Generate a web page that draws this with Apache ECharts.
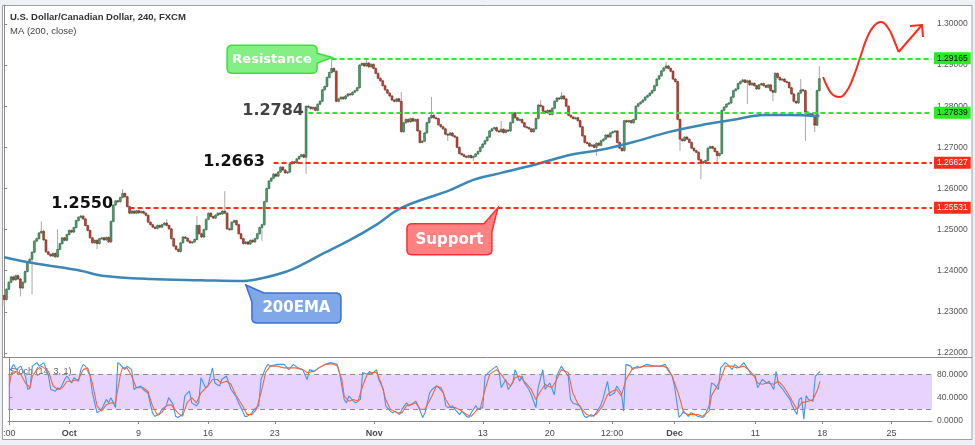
<!DOCTYPE html>
<html><head><meta charset="utf-8">
<script src="https://cdn.jsdelivr.net/npm/echarts@6/dist/echarts.min.js"></script>
<style>html,body{margin:0;padding:0;background:#eef1f5;}#c{width:975px;height:445px;}</style>
</head><body><div id="c"></div>
<script>
// ---------- DATA ----------
const firstOpen = 1.2340;
const closes = [
1.2330,1.2355,1.2372,1.2385,1.2378,1.2388,1.2380,1.2358,1.2372,1.2398,
1.2420,1.2428,1.2445,1.2472,1.2478,1.2492,1.2496,1.2475,1.2446,1.2440,
1.2436,1.2442,1.2434,1.2452,1.2466,1.2480,1.2474,1.2488,1.2498,1.2494,
1.2505,1.2522,1.2530,1.2533,1.2526,1.2510,1.2498,1.2480,1.2468,1.2474,
1.2466,1.2478,1.2480,1.2475,1.2481,1.2470,1.2520,1.2560,1.2570,1.2568,
1.2578,1.2588,1.2580,1.2556,1.2540,1.2545,1.2540,1.2546,1.2541,1.2544,
1.2540,1.2535,1.2518,1.2512,1.2506,1.2503,1.2510,1.2506,1.2512,1.2516,
1.2510,1.2502,1.2478,1.2460,1.2452,1.2447,1.2468,1.2482,1.2479,1.2472,
1.2468,1.2470,1.2476,1.2510,1.2490,1.2482,1.2500,1.2525,1.2540,1.2532,
1.2528,1.2535,1.2540,1.2538,1.2545,1.2540,1.2502,1.2500,1.2518,1.2522,
1.2512,1.2490,1.2478,1.2466,1.2470,1.2465,1.2474,1.2470,1.2478,1.2490,
1.2505,1.2512,1.2568,1.2600,1.2618,1.2625,1.2635,1.2630,1.2640,1.2652,
1.2645,1.2638,1.2640,1.2660,1.2665,1.2662,1.2672,1.2678,1.2682,1.2676,
1.2800,1.2798,1.2794,1.2797,1.2790,1.2805,1.2812,1.2840,1.2848,1.2870,
1.2882,1.2892,1.2885,1.2812,1.2818,1.2822,1.2818,1.2825,1.2830,1.2828,
1.2834,1.2838,1.2845,1.2900,1.2904,1.2898,1.2905,1.2896,1.2902,1.2892,
1.2880,1.2868,1.2862,1.2850,1.2840,1.2832,1.2825,1.2815,1.2812,1.2818,
1.2812,1.2738,1.2760,1.2768,1.2762,1.2770,1.2764,1.2768,1.2740,1.2712,
1.2715,1.2735,1.2760,1.2772,1.2778,1.2772,1.2770,1.2755,1.2750,1.2745,
1.2732,1.2730,1.2735,1.2728,1.2725,1.2700,1.2685,1.2682,1.2678,1.2676,
1.2680,1.2675,1.2678,1.2684,1.2690,1.2700,1.2708,1.2716,1.2725,1.2740,
1.2745,1.2748,1.2740,1.2738,1.2744,1.2736,1.2742,1.2740,1.2760,1.2784,
1.2772,1.2766,1.2768,1.2760,1.2750,1.2748,1.2745,1.2738,1.2745,1.2770,
1.2803,1.2800,1.2788,1.2784,1.2790,1.2780,1.2795,1.2812,1.2820,1.2818,
1.2825,1.2818,1.2800,1.2778,1.2774,1.2770,1.2772,1.2765,1.2750,1.2728,
1.2712,1.2710,1.2703,1.2706,1.2700,1.2710,1.2705,1.2716,1.2720,1.2730,
1.2725,1.2735,1.2738,1.2740,1.2712,1.2698,1.2692,1.2765,1.2762,1.2765,
1.2760,1.2768,1.2800,1.2806,1.2810,1.2815,1.2822,1.2826,1.2832,1.2838,
1.2850,1.2866,1.2874,1.2886,1.2893,1.2898,1.2892,1.2885,1.2866,1.2860,
1.2768,1.2720,1.2716,1.2725,1.2720,1.2712,1.2698,1.2692,1.2688,1.2670,
1.2665,1.2662,1.2668,1.2698,1.2702,1.2698,1.2690,1.2680,1.2685,1.2790,
1.2798,1.2805,1.2808,1.2822,1.2838,1.2842,1.2855,1.2860,1.2864,1.2858,
1.2862,1.2852,1.2856,1.2850,1.2842,1.2852,1.2855,1.2850,1.2846,1.2852,
1.2838,1.2834,1.2880,1.2870,1.2864,1.2866,1.2860,1.2858,1.2845,1.2830,
1.2812,1.2808,1.2832,1.2840,1.2838,1.2786,1.2780,1.2782,1.2776,1.2754,1.2838,1.2867
];
// notable wicks (bar index, high, low)
const wickIdx  = [0,7,12,16,23,40,51,70,83,95,111,130,141,156,171,184,191,202,214,231,240,255,285,291,300,307,320,331,343,345,349,351];
const wickHigh = [null,null,null,1.2518,1.2499,null,1.2596,1.2523,1.2531,1.2591,null,null,1.2917,1.2912,1.2832,1.2820,null,null,1.2762,1.2812,1.2832,null,1.2905,null,null,null,null,null,1.2864,null,null,1.2895];
const wickLow  = [1.2318,1.2340,1.2345,null,null,1.2455,null,null,null,null,1.2475,1.2638,null,null,null,null,1.2718,1.2669,null,null,null,1.2681,null,1.2694,1.2625,1.2662,1.2808,1.2815,null,1.2718,1.2740,null];

// MA(200) read points
const maIdx = [0,13,33,42,63,85,102,111,121,128,136,149,160,171,192,202,214,228,243,257,271,286,300,314,327,338,351];
const maVal = [1.2433,1.2418,1.2400,1.2388,1.2380,1.2377,1.2375,1.2382,1.2397,1.2414,1.2438,1.2475,1.2511,1.2553,1.2596,1.2621,1.2638,1.2657,1.2681,1.2694,1.2713,1.2737,1.2754,1.2767,1.2779,1.2779,1.2776];

// Stoch %K (blue) read points
const kIdx = [0,2,3,5,7,8,9,10,12,13,15,17,18,20,21,22,24,25,27,28,30,31,32,33,35,36,38,40,42,43,44,46,47,48,50,51,53,54,55,57,58,60,62,63,65,66,68,69,71,72,73,75,76,78,79,81,82,83,85,86,88,89,91,92,94,96,98,99,101,102,103,105,106,108,109,111,112,113,116,
119,121,123,125,127,129,130,132,134,137,139,142,143,145,146,147,149,150,152,153,155,156,157,159,160,162,163,165,166,167,169,170,172,173,175,176,177,179,180,182,183,185,186,188,189,190,192,193,195,196,198,199,200,202,203,205,206,208,209,211,212,213,215,216,218,219,221,222,223,225,226,228,229,231,232,
233,234,236,237,239,240,242,243,244,246,247,249,250,252,253,254,256,257,259,260,262,263,265,266,267,269,270,272,273,276,279,282,284,285,287,288,290,291,292,294,295,297,298,300,301,303,304,305,307,308,310,311,313,314,316,318,320,321,323,324,326,328,329,331,332,333,335,336,338,339,341,342,343,344,345,346,348,349,351];
const kVal = [85,97,88,94,77,54,57,94,100,94,100,77,54,51,57,54,71,77,65,74,68,88,97,94,77,48,14,20,37,31,40,23,100,97,88,94,88,54,57,60,54,48,14,8,11,20,26,40,28,8,6,11,43,51,31,26,31,74,57,60,91,65,60,71,77,54,43,34,17,8,8,14,20,26,71,91,97,94,97,
97,88,97,91,88,71,88,85,91,97,100,97,83,37,31,43,34,31,37,83,80,85,80,88,71,54,26,17,14,17,11,20,31,26,31,34,26,6,14,48,54,60,57,48,26,23,26,20,11,17,8,6,14,26,20,23,77,85,88,94,85,57,71,54,65,88,68,77,65,54,45,23,57,88,54,
60,65,45,77,94,88,77,37,31,28,26,8,6,11,8,14,26,37,68,43,48,60,48,17,97,94,88,94,91,97,94,94,97,88,77,60,6,11,17,8,14,11,8,6,8,26,65,63,54,91,100,97,88,97,91,100,88,80,77,57,71,65,68,54,85,63,54,48,37,26,11,37,40,3,43,37,34,77,85];

// Stoch %D (orange) read points
const dIdx = [0,1,3,5,7,9,10,12,14,17,19,21,23,25,27,30,32,34,36,38,40,42,44,46,48,49,51,53,55,58,60,62,64,66,68,70,73,75,77,79,81,83,86,88,90,92,94,96,98,101,103,105,107,109,111,113,116,
119,122,124,127,129,132,134,137,140,142,144,145,147,149,151,153,155,157,159,161,163,165,168,170,172,174,176,178,180,183,185,187,189,191,193,196,198,200,202,204,206,208,211,213,215,217,219,221,223,226,228,230,232,
233,235,237,239,242,244,246,248,250,252,254,257,259,261,263,265,267,270,272,275,277,280,283,285,287,290,292,294,296,298,300,303,304,306,308,310,313,315,318,320,322,324,326,328,331,333,335,337,339,341,343,346,348,350,351];
const dVal = [60,83,85,80,65,57,77,88,94,85,60,54,57,68,68,71,88,91,65,26,17,28,31,31,77,91,91,77,57,57,51,26,11,14,26,28,14,8,31,40,31,48,60,71,71,65,68,63,45,26,11,11,20,48,83,94,94,
91,91,91,88,83,85,91,97,98,94,71,43,34,37,34,60,80,83,83,65,37,20,14,14,26,28,31,20,20,43,60,57,37,23,23,17,11,8,17,23,54,80,88,80,68,60,74,77,68,54,37,51,63,
60,57,71,88,83,48,31,20,11,8,11,26,45,51,54,43,71,91,91,94,94,94,94,91,77,43,14,11,11,11,8,17,43,57,71,94,94,91,94,88,80,65,63,65,63,68,60,48,34,20,31,34,37,54,68];

// horizontal levels
const levelVals  = [1.29165, 1.27839, 1.26627, 1.25531];
const levelStart = [141, 131, 116, 54];
const lastPrice = 1.28669;

// axis ticks
const priceTicks = [1.22,1.23,1.24,1.25,1.26,1.27,1.28,1.29,1.30];
const stochTicks = [0,40,80];
const dateIdx  = [0,26,56,86,115,158,205,234,261,288,323,352,382];
const dateText = [':00','Oct','9','16','23','Nov','13','20','12:00','Dec','11','18','25'];

// hand-drawn forecast arrow (bar index, price)
const arrowIdx = [352.6,354.7,356.9,359.5,362.5,365.5,368.5,371.5,374.5,377.5,380.6,383.1,385.1];
const arrowVal = [1.28711,1.28444,1.28274,1.28225,1.28347,1.28687,1.29173,1.29660,1.29951,1.30049,1.29903,1.29611,1.29319];
const shaftIdx = [385.1,395.2];
const shaftVal = [1.29319,1.29976];

// ---------- CHART ----------
const SLOTS = 400;
const Y_MIN = 1.219027, Y_MAX = 1.304620;
const S_MIN = -6.85, S_MAX = 107.9;
const FONT = 'Liberation Sans';

const cats = Array.from({length:SLOTS}, (_, i) => String(i));
const candleData = closes.map((c, i) => {
  const o = i === 0 ? firstOpen : closes[i-1];
  let h = Math.max(o, c), l = Math.min(o, c);
  const w = wickIdx.indexOf(i);
  if (w >= 0) {
    if (wickHigh[w] != null) h = Math.max(h, wickHigh[w]);
    if (wickLow[w] != null) l = Math.min(l, wickLow[w]);
  }
  return [i, o, c, l, h];
});

function renderCandle(params, api) {
  const i = api.value(0), o = api.value(1), c = api.value(2), l = api.value(3), h = api.value(4);
  const po = api.coord([i, o]), pc = api.coord([i, c]), pl = api.coord([i, l]), ph = api.coord([i, h]);
  const bw = api.size([1, 0])[0] * 0.8;
  const x = po[0];
  const up = c >= o;
  const top = Math.min(po[1], pc[1]);
  const hgt = Math.max(Math.abs(po[1] - pc[1]), 1);
  return {type:'group', children:[
    {type:'line', shape:{x1:x, y1:ph[1]-1, x2:x, y2:pl[1]+1}, style:{stroke:'#a8a8a8', lineWidth:1}},
    {type:'rect', shape:{x:x-bw/2, y:top, width:bw, height:hgt},
     style:{fill: up ? '#53a06c' : '#c84634', stroke: up ? '#24603a' : '#6e2016', lineWidth:0.6}}
  ]};
}

const levelColors = ['#33e533','#33e533','#ff2a1a','#ff2a1a'];
const levelLabelBg = ['#22ee22','#22ee22','#ff2a1a','#ff2a1a'];
const levelLabelFg = ['#000','#000','#fff','#fff'];
const lvlLines = levelVals.map((v, k) => [
  {coord:[levelStart[k], v],
   lineStyle:{color:levelColors[k], type:[5,3], width:2},
   label:{show:true, position:'end', distance:2, formatter:() => v.toFixed(5),
          color:levelLabelFg[k], backgroundColor:levelLabelBg[k], padding:[2,3,1,3],
          fontSize:8.5, fontFamily:FONT}},
  {coord:[SLOTS-0.5, v]}
]);
lvlLines.push([
  {coord:[351, lastPrice], lineStyle:{opacity:0, width:0},
   label:{show:true, position:'end', distance:2, formatter:() => lastPrice.toFixed(5),
          color:'#fff', backgroundColor:'#6c9f84', padding:[2,3,1,3], fontSize:8.5, fontFamily:FONT}},
  {coord:[SLOTS-0.5, lastPrice]}
]);

const chart = echarts.init(document.getElementById('c'), null, {renderer:'canvas'});
const option = {
  animation:false,
  backgroundColor:'#eef1f5',
  textStyle:{fontFamily:FONT},
  grid:[
    {left:3, top:5, width:929, height:352},
    {left:3, top:358, width:929, height:67}
  ],
  xAxis:[
    {type:'value', gridIndex:0, min:-0.5, max:SLOTS-0.5, show:false},
    {type:'category', gridIndex:1, data:cats, boundaryGap:true,
     axisLine:{show:true, lineStyle:{color:'#8a8a8a'}},
     axisTick:{show:true, alignWithLabel:true, length:3, interval:(idx) => dateIdx.includes(idx), lineStyle:{color:'#8a8a8a'}},
     axisLabel:{interval:(idx) => dateIdx.includes(idx), margin:4, fontSize:9, color:'#4a4a4a', fontFamily:FONT,
       formatter:(val) => { const t = dateText[dateIdx.indexOf(Number(val))] || '';
         return ['Oct','Nov','Dec'].includes(t) ? '{b|' + t + '}' : t; },
       rich:{b:{fontWeight:'bold', fontSize:9, color:'#4a4a4a', fontFamily:FONT}}},
     splitLine:{show:false}},
    {type:'value', gridIndex:1, min:-0.5, max:SLOTS-0.5, show:false}
  ],
  yAxis:[
    {type:'value', gridIndex:0, position:'right', min:Y_MIN, max:Y_MAX, splitLine:{show:false},
     axisLine:{show:true, lineStyle:{color:'#8a8a8a'}},
     axisTick:{show:true, length:3, customValues:priceTicks, lineStyle:{color:'#8a8a8a'}},
     axisLabel:{customValues:priceTicks, formatter:(v) => v.toFixed(5), color:'#555', fontSize:8.5, margin:5, fontFamily:FONT}},
    {type:'value', gridIndex:1, position:'right', min:S_MIN, max:S_MAX, splitLine:{show:false},
     axisLine:{show:true, lineStyle:{color:'#8a8a8a'}},
     axisTick:{show:true, length:3, customValues:stochTicks, lineStyle:{color:'#8a8a8a'}},
     axisLabel:{customValues:stochTicks, formatter:(v) => v.toFixed(4), color:'#555', fontSize:8.5, margin:5, fontFamily:FONT}}
  ],
  series:[
    {type:'custom', name:'USDCAD', xAxisIndex:0, yAxisIndex:0, renderItem:renderCandle,
     data:candleData, encode:{x:0, y:[1,2,3,4]}, z:2, clip:true},
    {type:'line', name:'MA200', xAxisIndex:0, yAxisIndex:0, data:maIdx.map((x, j) => [x, maVal[j]]),
     smooth:0.35, symbol:'none', lineStyle:{color:'#3b87b6', width:2.5}, z:3},
    {type:'line', name:'forecast', xAxisIndex:0, yAxisIndex:0, data:arrowIdx.map((x, j) => [x, arrowVal[j]]),
     smooth:0.5, symbol:'none', lineStyle:{color:'#ff2a1a', width:2}, z:4,
     markLine:{symbol:['none','none'], silent:true, animation:false, data:lvlLines}},
    {type:'line', name:'forecast2', xAxisIndex:0, yAxisIndex:0, data:shaftIdx.map((x, j) => [x, shaftVal[j]]),
     symbol:'none', lineStyle:{color:'#ff2a1a', width:2}, z:4},
    {type:'line', name:'%K', xAxisIndex:2, yAxisIndex:1, data:kIdx.map((x, j) => [x, kVal[j]]),
     symbol:'none', lineStyle:{color:'#3f95f6', width:1.1}, z:4,
     markArea:{silent:true, itemStyle:{color:'rgba(185,120,255,0.33)'}, data:[[{yAxis:20},{yAxis:80}]]},
     markLine:{symbol:['none','none'], silent:true, label:{show:false},
       lineStyle:{color:'#8d8d8d', type:[5,4], width:1}, data:[{yAxis:20},{yAxis:80}]}},
    {type:'line', name:'%D', xAxisIndex:2, yAxisIndex:1, data:dIdx.map((x, j) => [x, dVal[j]]),
     symbol:'none', lineStyle:{color:'#f2673c', width:1.1}, z:5}
  ]
};
chart.setOption(option);

// ---------- annotations (anchored in data space) ----------
const P = (x, y) => chart.convertToPixel({seriesIndex:1}, [x, y]);
function roundedPoly(verts) {
  const pts = [];
  const n = verts.length;
  for (let i = 0; i < n; i++) {
    const [x, y, r] = verts[i];
    if (!r) { pts.push([x, y]); continue; }
    const p = verts[(i - 1 + n) % n], q = verts[(i + 1) % n];
    const d1 = Math.hypot(p[0]-x, p[1]-y), d2 = Math.hypot(q[0]-x, q[1]-y);
    const a = [x + (p[0]-x)/d1*r, y + (p[1]-y)/d1*r];
    const b = [x + (q[0]-x)/d2*r, y + (q[1]-y)/d2*r];
    for (let s = 0; s <= 5; s++) {
      const t = s/5, u = 1-t;
      pts.push([u*u*a[0] + 2*u*t*x + t*t*b[0], u*u*a[1] + 2*u*t*y + t*t*b[1]]);
    }
  }
  return pts;
}
function callout(tip, L, T, W, H, side, text, fill, stroke, fs) {
  const R = L + W, B = T + H, r = 5;
  let verts;
  if (side === 'right') verts = [[L,T,r],[R,T,r],[R,T+8,0],[tip[0],tip[1],0],[R,T+18,0],[R,B,r],[L,B,r]];
  else if (side === 'topright') verts = [[L,T,r],[L+W-8,T,0],[tip[0],tip[1],0],[R,T+8,0],[R,B,r],[L,B,r]];
  else verts = [[tip[0],tip[1],0],[L+12,T,0],[R,T,r],[R,B,r],[L,B,r],[L,T+9,0]];
  return [
    {type:'polygon', shape:{points:roundedPoly(verts)}, style:{fill, stroke, lineWidth:1.5}, z:20},
    {type:'text', x:L+W/2, y:T+H/2+0.5, style:{text, fill:'#fff', font:'bold ' + fs + 'px "DejaVu Sans"', align:'center', verticalAlign:'middle'}, z:21}
  ];
}
const tRes = P(141.2, 1.2919), tSup = P(212.6, 1.25531), tEma = P(104.1, 1.23653);
const t1 = P(129.1, 1.2788), t2 = P(112.3, 1.26657), t3 = P(46.9, 1.25623);
const tip = P(395.2, 1.29976);

const graphics = [
  {type:'rect', shape:{x:2.5, y:5.5, width:969.5, height:434}, style:{fill:'#fff', stroke:'#a0a0a0', lineWidth:1}, z:-10},
  {type:'line', shape:{x1:2.5, y1:357.5, x2:972, y2:357.5}, style:{stroke:'#8a8a8a', lineWidth:1}, z:1},
  {type:'text', x:10, y:17, style:{text:'U.S. Dollar/Canadian Dollar, 240, FXCM', fill:'#333', font:'bold 9.5px "Liberation Sans"', verticalAlign:'middle'}, z:10},
  {type:'text', x:10, y:31, style:{text:'MA (200, close)', fill:'#444', font:'9.5px "Liberation Sans"', verticalAlign:'middle'}, z:10},
  {type:'text', x:10, y:372, style:{text:'Stoch (14, 3, 1)', fill:'#666', font:'9px "Liberation Sans"', verticalAlign:'middle'}, z:1},
  {type:'text', x:t1[0], y:t1[1], style:{text:'1.2784', fill:'#444', font:'bold 16px "DejaVu Sans"', align:'right', verticalAlign:'middle'}, z:10},
  {type:'text', x:t2[0], y:t2[1], style:{text:'1.2663', fill:'#111', font:'bold 16px "DejaVu Sans"', align:'right', verticalAlign:'middle'}, z:10},
  {type:'text', x:t3[0], y:t3[1], style:{text:'1.2550', fill:'#111', font:'bold 16px "DejaVu Sans"', align:'right', verticalAlign:'middle'}, z:10},
  {type:'polyline', shape:{points:[[tip[0]-12, tip[1]+1],[tip[0], tip[1]],[tip[0]+1, tip[1]+12]]}, style:{stroke:'#ff2a1a', lineWidth:2, fill:null}, z:20}
]
.concat(callout(tRes, tRes[0]-105, tRes[1]-12, 90, 28, 'right', 'Resistance', '#84f084', '#3ede3e', 13))
.concat(callout(tSup, tSup[0]-91, tSup[1]+16, 85, 31, 'topright', 'Support', '#ff8181', '#ff3030', 15))
.concat(callout(tEma, tEma[0]+6, tEma[1]+8, 89, 30, 'topleft', '200EMA', '#80a8e8', '#3a6fd8', 15));

chart.setOption({graphic:{elements:graphics}});
</script>
</body></html>
